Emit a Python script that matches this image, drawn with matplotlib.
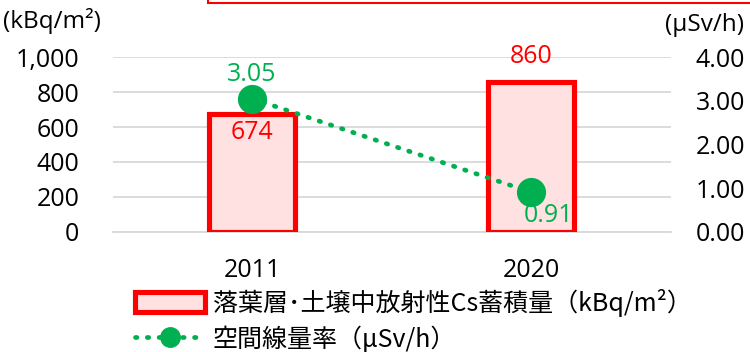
import matplotlib
matplotlib.use("Agg")
import matplotlib.pyplot as plt
from matplotlib.patches import Rectangle, Patch
from matplotlib.lines import Line2D

plt.rcParams['font.family'] = ['Open Sans', 'Noto Sans CJK JP', 'DejaVu Sans']

years = ["2011", "2020"]
cs_stock = [674, 860]          # kBq/m²
dose_rate = [3.05, 0.91]       # μSv/h
left_ticks = [0, 200, 400, 600, 800, 1000]
left_labels = ["0", "200", "400", "600", "800", "1,000"]
right_ticks = [0, 1, 2, 3, 4]
right_labels = ["0.00", "1.00", "2.00", "3.00", "4.00"]

RED = "#FF0000"
PINK = "#FFE1E1"
GREEN = "#00B050"
GRID = "#D9D9D9"
FS = 18
DOTS = (0, (0.3, 2.2))

fig = plt.figure(figsize=(7.5, 3.52), dpi=100)
ax = fig.add_axes([0.150, 0.341, 0.744, 0.497])
x = [0, 1]

ax.bar(x, cs_stock, width=0.31, color=PINK, edgecolor=RED, linewidth=3.7, zorder=3)
ax.set_xlim(-0.5, 1.5)
ax.set_ylim(0, 1000)
ax.set_yticks(left_ticks)
ax.set_yticklabels(left_labels)
ax.set_xticks(x)
ax.set_xticklabels(years)
ax.grid(axis='y', color=GRID, linewidth=1.3, zorder=0)
for s in ['top', 'right', 'left']:
    ax.spines[s].set_visible(False)
ax.spines['bottom'].set_color(GRID)
ax.spines['bottom'].set_linewidth(1.3)
ax.tick_params(axis='both', length=0, labelsize=FS, colors='black')
ax.tick_params(axis='y', pad=24)
ax.tick_params(axis='x', pad=19)

ax2 = ax.twinx()
ax2.set_ylim(0, 4)
ax2.set_yticks(right_ticks)
ax2.set_yticklabels(right_labels)
for s in ['top', 'right', 'left', 'bottom']:
    ax2.spines[s].set_visible(False)
ax2.tick_params(axis='y', length=0, labelsize=FS, pad=18)
ax2.plot(x, dose_rate, color=GREEN, linestyle=DOTS, dash_capstyle='round',
         linewidth=3.4, marker='o', markersize=20, zorder=5)

# value labels
ax.annotate(f"{cs_stock[0]}", (x[0], cs_stock[0]), xytext=(0, -4), textcoords='offset points',
            ha='center', va='top', color=RED, fontsize=FS)
ax.annotate(f"{cs_stock[1]}", (x[1], cs_stock[1]), xytext=(0, 9), textcoords='offset points',
            ha='center', va='bottom', color=RED, fontsize=FS)
ax2.annotate(f"{dose_rate[0]:.2f}", (x[0], dose_rate[0]), xytext=(0, 8), textcoords='offset points',
             ha='center', va='bottom', color=GREEN, fontsize=FS)
ax2.annotate(f"{dose_rate[1]:.2f}", (x[1], dose_rate[1]), xytext=(13, -8), textcoords='offset points',
             ha='center', va='top', color=GREEN, fontsize=FS)

# unit labels
fig.text(0.004, 0.94, "(kBq/m²)", fontsize=17.5, ha='left', va='center')
fig.text(0.992, 0.928, "(μSv/h)", fontsize=17.5, ha='right', va='center')

# framed box at top edge
fig.patches.append(Rectangle((0.277, 0.992), 0.75, 0.1, transform=fig.transFigure,
                             facecolor='white', edgecolor=RED, linewidth=1.5, clip_on=False))

handles = [Patch(facecolor=PINK, edgecolor=RED, linewidth=3.7),
           Line2D([0], [0], color=GREEN, linestyle=DOTS, dash_capstyle='round',
                  linewidth=3.4, marker='o', markersize=14)]
labels = ["落葉層･土壌中放射性Cs蓄積量（kBq/m²）", "空間線量率（μSv/h）"]
leg = fig.legend(handles, labels, loc='upper left', bbox_to_anchor=(0.18, 0.18),
                 frameon=False, fontsize=FS, handlelength=2.8, handleheight=0.8,
                 handletextpad=0.3, labelspacing=0.38, borderaxespad=0, borderpad=0)
for t in leg.get_texts():
    t.set_family(['Noto Sans CJK JP', 'DejaVu Sans'])

fig.savefig("out.png", dpi=100)
